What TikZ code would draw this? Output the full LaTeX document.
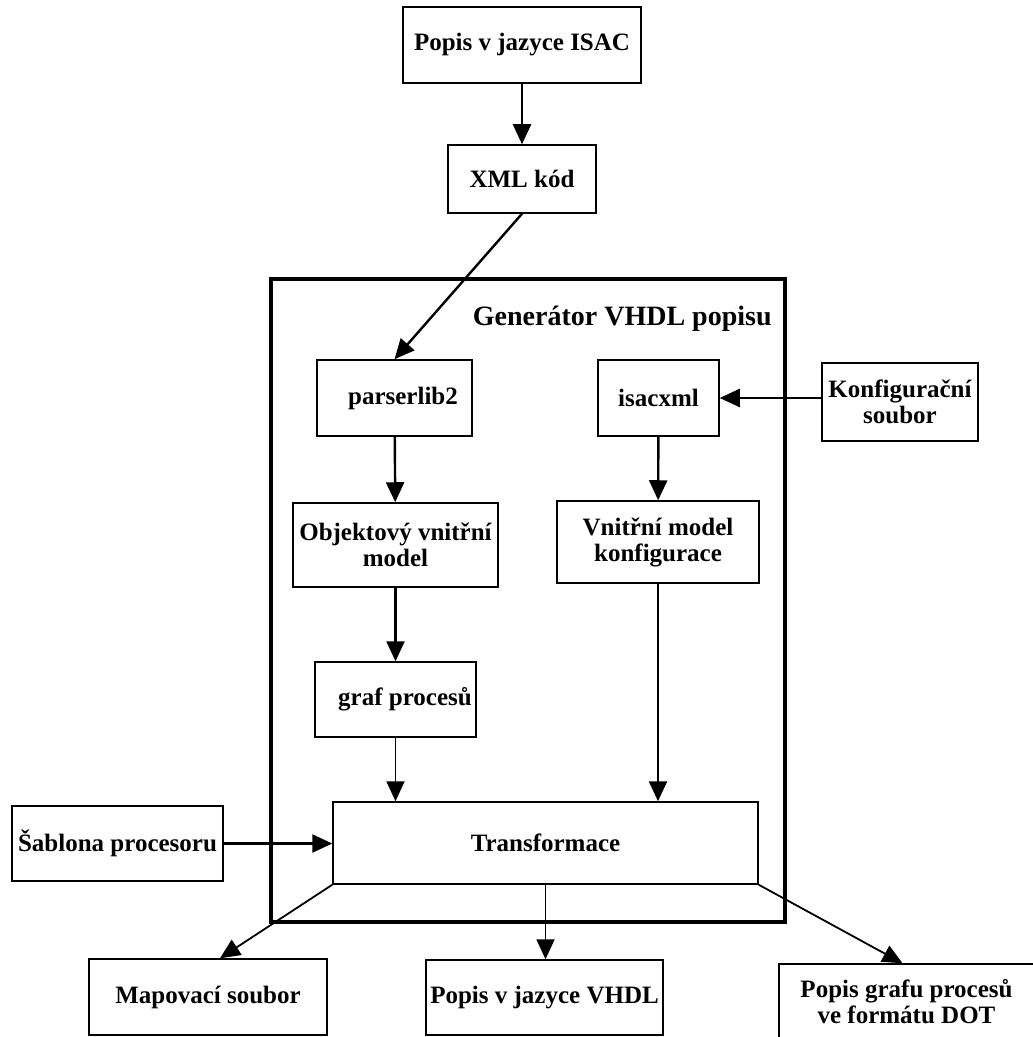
\documentclass[tikz,border=0pt]{standalone}
\usepackage{fontspec}
\setmainfont{Liberation Serif}
\usetikzlibrary{arrows.meta,calc}
\begin{document}
\begin{tikzpicture}[x=0.5pt,y=-0.5pt,
  box/.style={draw, line width=0.75pt, inner sep=0pt, align=center,
              font=\bfseries\fontsize{12.5}{13}\selectfont},
  frame/.style={draw, line width=2pt},
  flow/.style={line width=1.2pt, -{Triangle[length=10pt,width=9pt]}},
  thinflow/.style={line width=0.9pt, -{Triangle[length=10pt,width=9pt]}},
]
\useasboundingbox (0,0) rectangle (1032,1037);

% generator frame
\draw[frame] (271,279) rectangle (785,922);
\node[anchor=base east, inner sep=0pt, font=\bfseries\fontsize{14}{16}\selectfont]
  (gentitle) at (772,325) {Generátor VHDL popisu};

% inputs
\node[box, minimum width=119pt, minimum height=38pt] (isac) at (522,45) {Popis v jazyce ISAC};
\node[box, minimum width=74pt, minimum height=34pt] (xml) at (522,179) {XML kód};
\node[box, minimum width=78pt, minimum height=39pt] (konf) at (900,402) {Konfigurační\\soubor};
\node[box, minimum width=105.5pt, minimum height=37.5pt] (sab) at (117.5,843.5) {Šablona procesoru};

% generator internals
\node[box, minimum width=77.5pt, minimum height=38pt] (p2) at (394.5,398) {\hspace*{8.5pt}parserlib2};
\node[box, minimum width=60.5pt, minimum height=38pt] (ix) at (658.5,398) {isacxml};
\node[box, minimum width=102.5pt, minimum height=42pt] (obj) at (395.5,545) {Objektový vnitřní\\model};
\node[box, minimum width=101pt, minimum height=41pt] (vm) at (658,542) {Vnitřní model\\konfigurace};
\node[box, minimum width=80.5pt, minimum height=37.5pt] (graf) at (395.5,699.5) {\hspace*{9.5pt}graf procesů};
\node[box, minimum width=212.5pt, minimum height=41pt] (trans) at (545.5,843) {Transformace};

% outputs
\node[box, minimum width=119pt, minimum height=38pt] (map) at (208,997) {Mapovací soubor};
\node[box, minimum width=118.5pt, minimum height=37.5pt] (vhdl) at (544.5,997.5) {Popis v jazyce VHDL};
\node[box, minimum width=127.5pt, minimum height=38pt] (dot) at (906.5,1002) {Popis grafu procesů\\ve formátu DOT};

% connectors
\draw[flow] (isac) -- (xml);
\draw[flow] (xml.south) -- (p2.north);
\draw[flow] (konf.west |- ix.east) -- (ix.east);
\draw[flow] (p2) -- (obj);
\draw[flow] (ix) -- (vm);
\draw[flow] (obj) -- (graf);
\draw[thinflow] (graf.south) -- (graf.south |- trans.north);
\draw[flow] (vm.south) -- (vm.south |- trans.north);
\draw[flow] (sab.east) -- (sab.east -| trans.west);
\draw[thinflow] (trans.south west) -- ($(map.north)+(12,0)$);
\draw[thinflow] (trans.south) -- (trans.south |- vhdl.north);
\draw[thinflow] (trans.south east) -- ($(dot.north)+(-4,0)$);
\end{tikzpicture}
\end{document}
